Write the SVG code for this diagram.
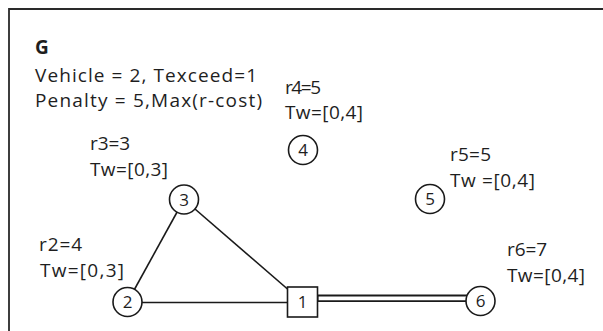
<svg xmlns="http://www.w3.org/2000/svg" width="603" height="331" viewBox="0 0 603 331">
  <style>
    .frame { stroke: #2a2a2a; stroke-width: 1.8; fill: none; }
    .lbl { font-family: "Open Sans", "Liberation Sans", sans-serif; font-size: 19px; fill: #1e1e1e; }
    .num { font-family: "Open Sans", "Liberation Sans", sans-serif; font-size: 17px; fill: #1e1e1e; text-anchor: middle; }
    .node { fill: #ffffff; stroke: #1a1a1a; stroke-width: 1.6; }
    .edge { stroke: #1a1a1a; stroke-width: 1.6; fill: none; }
    .dbl-outer { stroke: #1a1a1a; stroke-width: 7.5; fill: none; }
    .dbl-inner { stroke: #ffffff; stroke-width: 3.8; fill: none; }
  </style>

  <rect x="0" y="0" width="603" height="331" fill="#ffffff"/>

  <!-- open frame: top and left borders -->
  <path class="frame" d="M9 331 V9 H603"/>

  <!-- header text -->
  <g id="header">
    <text class="lbl" x="35" y="54" font-weight="bold">G</text>
    <text class="lbl" x="35" y="82" textLength="222">Vehicle = 2, Texceed=1</text>
    <text class="lbl" x="35" y="107" textLength="227">Penalty = 5,Max(r-cost)</text>
  </g>

  <!-- node attributes -->
  <g id="labels">
    <text class="lbl" x="285" y="94" textLength="36">r4=5</text>
    <text class="lbl" x="285" y="119" textLength="78">Tw=[0,4]</text>
    <text class="lbl" x="90" y="150" textLength="40">r3=3</text>
    <text class="lbl" x="90" y="176" textLength="78">Tw=[0,3]</text>
    <text class="lbl" x="450" y="161" textLength="41">r5=5</text>
    <text class="lbl" x="450" y="187" textLength="85">Tw =[0,4]</text>
    <text class="lbl" x="39" y="251" textLength="43">r2=4</text>
    <text class="lbl" x="40" y="277" textLength="84">Tw=[0,3]</text>
    <text class="lbl" x="507" y="256" textLength="40">r6=7</text>
    <text class="lbl" x="507" y="282" textLength="78">Tw=[0,4]</text>
  </g>

  <!-- connectors -->
  <g id="connectors">
    <line class="edge" x1="127.5" y1="302" x2="184" y2="199.5"/>
    <line class="edge" x1="184" y1="199.5" x2="302.5" y2="302"/>
    <line class="edge" x1="127.5" y1="302.5" x2="302.5" y2="302.5"/>
    <line class="dbl-outer" x1="317" y1="298.3" x2="467" y2="298.3"/>
    <line class="dbl-inner" x1="318.5" y1="298.3" x2="466" y2="298.3"/>
  </g>

  <!-- nodes -->
  <g id="node1">
    <rect class="node" x="287.5" y="287" width="30" height="30"/>
    <text class="num" x="302.5" y="308">1</text>
  </g>
  <g id="node2">
    <circle class="node" cx="127.5" cy="302" r="14.5"/>
    <text class="num" x="127.5" y="308">2</text>
  </g>
  <g id="node3">
    <circle class="node" cx="184" cy="199.5" r="14.5"/>
    <text class="num" x="184" y="205.5">3</text>
  </g>
  <g id="node4">
    <circle class="node" cx="303" cy="150" r="14.5"/>
    <text class="num" x="303" y="156">4</text>
  </g>
  <g id="node5">
    <circle class="node" cx="430" cy="199" r="14.5"/>
    <text class="num" x="430" y="205">5</text>
  </g>
  <g id="node6">
    <circle class="node" cx="480.5" cy="301" r="14.5"/>
    <text class="num" x="480.5" y="307">6</text>
  </g>
</svg>
